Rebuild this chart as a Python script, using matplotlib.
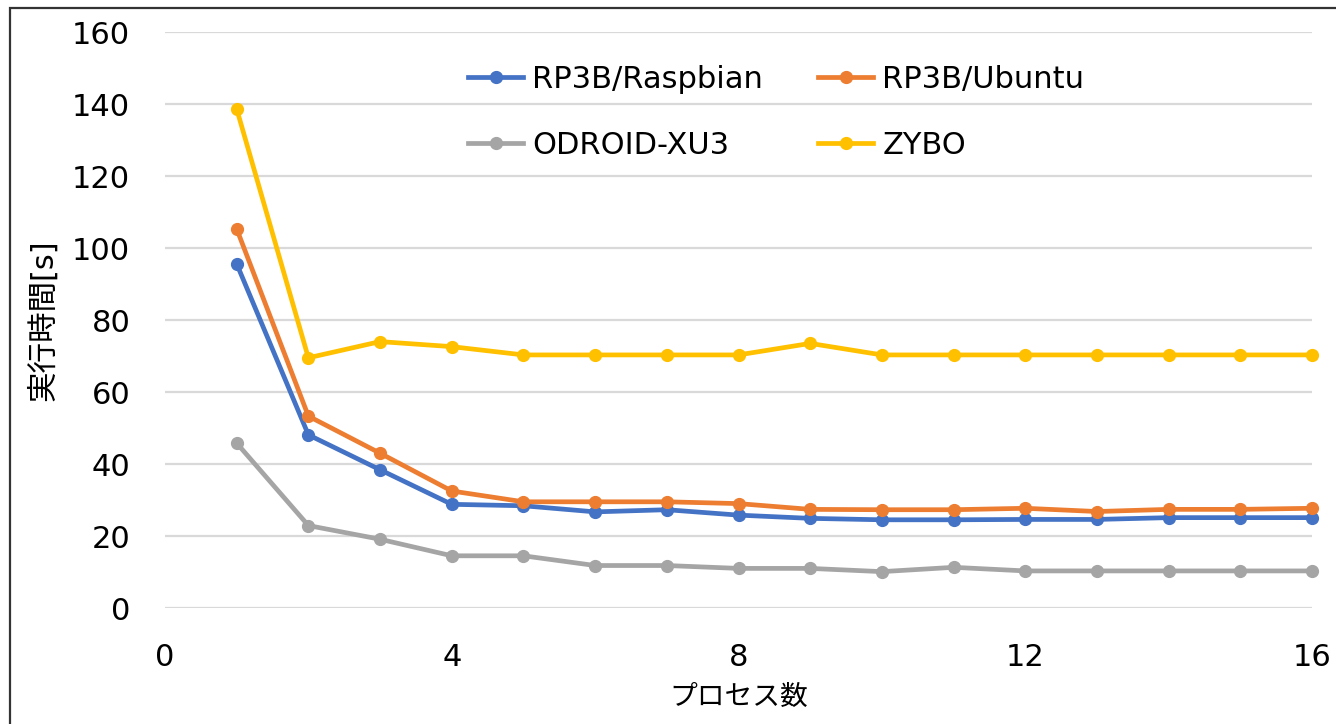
import matplotlib
matplotlib.use("Agg")
import matplotlib.pyplot as plt
from matplotlib.patches import Rectangle

plt.rcParams['font.family'] = ['DejaVu Sans', 'Noto Sans CJK JP']

# データ
processes = list(range(1, 17))
raspbian = [95.6, 48.1, 38.4, 28.8, 28.4, 26.7, 27.3, 25.8,
            24.9, 24.5, 24.5, 24.6, 24.6, 25.1, 25.1, 25.1]
ubuntu = [105.3, 53.3, 43.0, 32.5, 29.5, 29.5, 29.5, 29.0,
          27.4, 27.3, 27.3, 27.7, 26.8, 27.4, 27.4, 27.7]
odroid = [45.8, 22.9, 19.1, 14.5, 14.5, 11.8, 11.8, 11.0,
          11.0, 10.1, 11.3, 10.3, 10.3, 10.3, 10.3, 10.3]
zybo = [138.6, 69.5, 74.0, 72.6, 70.3, 70.3, 70.3, 70.3,
        73.5, 70.3, 70.3, 70.3, 70.3, 70.3, 70.3, 70.3]

series = [
    ("RP3B/Raspbian", raspbian, "#4472C4"),
    ("RP3B/Ubuntu", ubuntu, "#ED7D31"),
    ("ODROID-XU3", odroid, "#A5A5A5"),
    ("ZYBO", zybo, "#FFC000"),
]
x_ticks = [0, 4, 8, 12, 16]
y_ticks = [0, 20, 40, 60, 80, 100, 120, 140, 160]

fig = plt.figure(figsize=(13.36, 7.24), dpi=100)
ax = fig.add_axes([165 / 1336, 116 / 724, 1147 / 1336, 576 / 724])

lines = []
for label, values, color in series:
    ln, = ax.plot(processes, values, color=color, lw=3.4, marker="o",
                  markersize=8.5, label=label, clip_on=False, zorder=3)
    lines.append(ln)

ax.set_xlim(0, 16)
ax.set_ylim(0, 160)
ax.set_xticks(x_ticks)
ax.set_yticks(y_ticks)
ax.grid(axis="y", color="#D9D9D9", lw=1.6)
ax.set_axisbelow(True)
for s in ax.spines.values():
    s.set_visible(False)
ax.tick_params(length=0, labelsize=22, pad=25)

ax.set_xlabel("プロセス数", fontsize=20, labelpad=8)
ax.set_ylabel("実行時間[s]", fontsize=22, labelpad=10)

# 凡例は行方向に並べる (Excel風)
order = [0, 2, 1, 3]
ax.legend([lines[i] for i in order], [series[i][0] for i in order],
          ncol=2, frameon=False, fontsize=22, loc="upper left",
          bbox_to_anchor=(468 / 1336, 1 - 65 / 724),
          bbox_transform=fig.transFigure, borderpad=0, borderaxespad=0,
          handlelength=1.8, handletextpad=0.3, columnspacing=1.8,
          labelspacing=1.2)

# 外枠
fig.patches.append(Rectangle((10 / 1336, -0.1), 1.2, 0.1 + (724 - 8) / 724,
                             transform=fig.transFigure, fill=False,
                             edgecolor="#333333", lw=1.6))

fig.savefig("out.png", dpi=100)
